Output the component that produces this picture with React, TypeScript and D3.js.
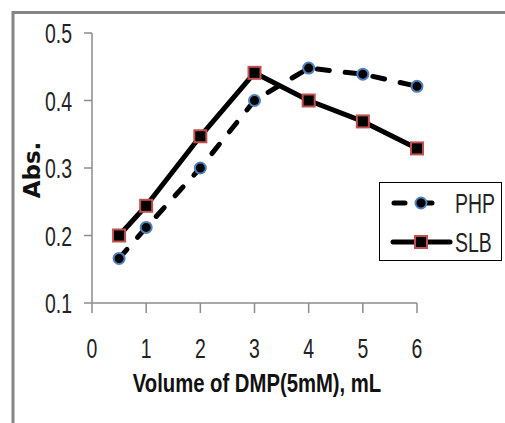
import React from 'react';
import * as d3 from 'd3';

const volumes = [0.5, 1, 2, 3, 4, 5, 6];
const phpValues = [0.166, 0.212, 0.3, 0.4, 0.448, 0.439, 0.421];
const slbValues = [0.2, 0.244, 0.347, 0.441, 0.4, 0.369, 0.329];
const xTicks = [0, 1, 2, 3, 4, 5, 6];
const yTicks = [0.1, 0.2, 0.3, 0.4, 0.5];

const SANS = '"Liberation Sans", Arial, sans-serif';

// Calibri-like look: Liberation Sans squeezed horizontally
const NarrowText: React.FC<{
    x: number; y: number; anchor?: string; size?: number; sx?: number; bold?: boolean; children: React.ReactNode;
}> = ({ x, y, anchor = 'start', size = 27, sx = 0.72, bold = false, children }) => (
    <text
        transform={`translate(${x},${y}) scale(${sx},1)`}
        textAnchor={anchor}
        fontFamily={SANS}
        fontSize={size}
        fontWeight={bold ? 'bold' : 'normal'}
        fill={bold ? '#111' : '#222'}
    >
        {children}
    </text>
);

const App: React.FC = () => {
    const width = 505;
    const height = 423;

    const xScale = d3.scaleLinear().domain([0, 6]).range([92, 417]);
    const yScale = d3.scaleLinear().domain([0.1, 0.5]).range([303, 33]);

    const line = d3.line<number>()
        .x((_, i) => xScale(volumes[i]))
        .y(d => yScale(d));

    const axisColor = '#8c8c8c';

    return (
        <div style={{ position: 'absolute', left: 0, top: 0 }}>
            <svg width={width} height={height} style={{ display: 'block', background: '#fff' }}>
                {/* outer frame */}
                <line x1={13} y1={12.5} x2={505} y2={12.5} stroke="#858585" strokeWidth={3} />
                <line x1={13} y1={11} x2={13} y2={423} stroke="#858585" strokeWidth={3} />

                {/* y axis */}
                <line x1={xScale(0)} y1={yScale(0.5)} x2={xScale(0)} y2={yScale(0.1)} stroke={axisColor} strokeWidth={1.5} />
                {yTicks.map(t => (
                    <g key={t}>
                        <line x1={xScale(0) - 8} x2={xScale(0)} y1={yScale(t)} y2={yScale(t)} stroke={axisColor} strokeWidth={1.5} />
                        <NarrowText x={72} y={yScale(t) + 10} anchor="end">{t.toFixed(1)}</NarrowText>
                    </g>
                ))}

                {/* x axis */}
                <line x1={xScale(0)} y1={yScale(0.1)} x2={xScale(6)} y2={yScale(0.1)} stroke={axisColor} strokeWidth={1.5} />
                {xTicks.map(t => (
                    <g key={t}>
                        <line x1={xScale(t)} x2={xScale(t)} y1={yScale(0.1)} y2={yScale(0.1) + 10} stroke={axisColor} strokeWidth={1.5} />
                        <NarrowText x={xScale(t)} y={358} anchor="middle">{t}</NarrowText>
                    </g>
                ))}

                <NarrowText x={257} y={392} anchor="middle" size={26} sx={0.78} bold>Volume of DMP(5mM), mL</NarrowText>
                <text transform="translate(40, 170) rotate(-90)" textAnchor="middle" fontFamily='"DejaVu Sans", sans-serif' fontWeight="bold" fontSize={23} fill="#111">
                    Abs.
                </text>

                {/* series lines */}
                <path d={line(phpValues) || ''} fill="none" stroke="#000" strokeWidth={5} strokeDasharray="12 16" strokeLinecap="round" />
                <path d={line(slbValues) || ''} fill="none" stroke="#000" strokeWidth={5} strokeLinejoin="round" />

                {/* markers */}
                {phpValues.map((v, i) => (
                    <circle key={'p' + i} cx={xScale(volumes[i])} cy={yScale(v)} r={5.5} fill="#000" stroke="#4f81bd" strokeWidth={2} />
                ))}
                {slbValues.map((v, i) => (
                    <rect key={'s' + i} x={xScale(volumes[i]) - 6} y={yScale(v) - 6} width={12} height={12} fill="#000" stroke="#c0504d" strokeWidth={2} />
                ))}

                {/* legend */}
                <g>
                    <rect x={379.5} y={182.5} width={122} height={78} fill="#fff" stroke="#000" strokeWidth={1} />
                    <line x1={394} x2={448} y1={203} y2={203} stroke="#000" strokeWidth={5} strokeDasharray="11 16" strokeLinecap="round" />
                    <circle cx={421} cy={203} r={5.5} fill="#000" stroke="#4f81bd" strokeWidth={2} />
                    <NarrowText x={455} y={213}>PHP</NarrowText>
                    <line x1={393} x2={450} y1={242} y2={242} stroke="#000" strokeWidth={5} strokeLinecap="round" />
                    <rect x={415} y={236} width={12} height={12} fill="#000" stroke="#c0504d" strokeWidth={2} />
                    <NarrowText x={455} y={252}>SLB</NarrowText>
                </g>
            </svg>
        </div>
    );
};

export default App;
